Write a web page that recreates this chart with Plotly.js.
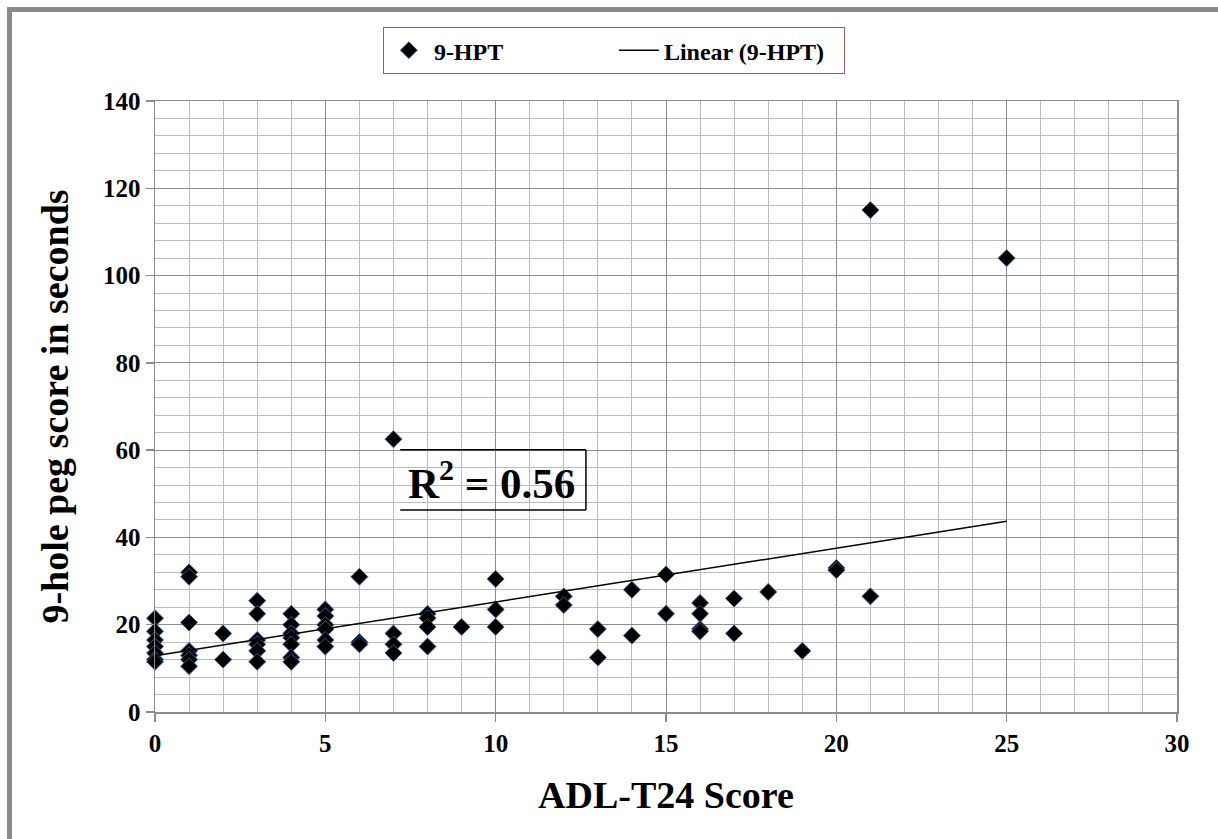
<!DOCTYPE html>
<html>
<head>
<meta charset="utf-8">
<script src="https://cdn.plot.ly/plotly-3.0.1.min.js"></script>
<style>
  html, body { margin: 0; padding: 0; background: #ffffff; }
  #wrap { position: relative; width: 1218px; height: 839px; overflow: hidden; }
  #chart { position: absolute; left: 0; top: 0; width: 1218px; height: 839px; }
  #frame { position: absolute; left: 7px; top: 7px; width: 1206px; height: 828px;
           border-left: 5px solid #8a8a8a; border-top: 5px solid #8a8a8a;
           border-right: 2px solid #9a9a9a; border-bottom: 2px solid #9a9a9a;
           pointer-events: none; }
</style>
</head>
<body>
<div id="wrap">
  <div id="chart"></div>
  <div id="frame"></div>
</div>
<script>
// ADL-T24 score (x) and 9-hole peg test time in seconds (y)
const adlScores = [
  0,0,0,0,0,0,0,
  1,1,1,1,1,1,1,
  2,2,
  3,3,3,3,3,3,
  4,4,4,4,4,4,4,
  5,5,5,5,5,5,
  6,6,6,
  7,7,7,7,
  8,8,8,8,
  9,
  10,10,10,
  12,12,
  13,13,
  14,14,
  15,15,
  16,16,16,16,
  17,17,
  18,
  19,
  20,20,
  21,21,
  25
];
const pegTimes = [
  21.5,18.5,16.5,15,13.5,12,11.5,
  32,31,20.5,14,13,12,10.5,
  18,12,
  25.5,22.5,16.5,15.5,14,11.5,
  22.5,20,18,17,15.5,12.5,11.5,
  23.5,22,20,19,16.5,15,
  31,16,15.5,
  62.5,18,15.5,13.5,
  22.5,21.5,19.5,15,
  19.5,
  30.5,23.5,19.5,
  26.5,24.5,
  19,12.5,
  28,17.5,
  31.5,22.5,
  25,22.5,19,18.5,
  26,18,
  27.5,
  14,
  33,32.5,
  115,26.5,
  104
];
// Linear trend line end points
const trendX = [0, 25];
const trendY = [12.9, 43.7];
const rSquaredText = 'R<sup>2</sup> = 0.56';
const seriesName = '9-HPT';
const trendName = 'Linear (9-HPT)';
const xTitle = 'ADL-T24 Score';
const yTitle = '9-hole peg score in seconds';

const serif = 'Liberation Serif, Times New Roman, serif';

const traces = [
  {
    x: adlScores, y: pegTimes, type: 'scatter', mode: 'markers', name: seriesName,
    marker: { symbol: 'diamond', size: 13, color: '#000000', line: { color: '#2f5a8a', width: 1 } },
    cliponaxis: false
  },
  {
    x: trendX, y: trendY, type: 'scatter', mode: 'lines', name: trendName,
    line: { color: '#000000', width: 1.5 }
  }
];

const layout = {
  width: 1218, height: 839,
  margin: { l: 155, r: 41, t: 101, b: 127 },
  paper_bgcolor: '#ffffff', plot_bgcolor: '#ffffff',
  font: { family: serif, color: '#000000' },
  showlegend: true,
  legend: {
    orientation: 'h', x: 0.449, xanchor: 'center', y: 1.121, yanchor: 'top',
    bordercolor: '#a85a5a', borderwidth: 1, bgcolor: '#ffffff',
    font: { family: serif, size: 24, color: '#000000', weight: 'bold' },
    itemwidth: 40, entrywidth: 175, entrywidthmode: 'pixels'
  },
  xaxis: {
    range: [0, 30], dtick: 5, tick0: 0,
    showgrid: true, gridcolor: '#8c8c8c', gridwidth: 1,
    minor: { dtick: 1, showgrid: true, gridcolor: '#bcbcbc', gridwidth: 1 },
    showline: true, linecolor: '#8c8c8c', linewidth: 1.5, mirror: true,
    ticks: 'outside', ticklen: 8, tickcolor: '#8c8c8c', tickwidth: 1.5,
    zeroline: false,
    tickfont: { family: serif, size: 25, color: '#000000', weight: 'bold' },
    title: { text: xTitle, standoff: 26, font: { family: serif, size: 38, color: '#000000', weight: 'bold' } }
  },
  yaxis: {
    range: [0, 140], dtick: 20, tick0: 0,
    showgrid: true, gridcolor: '#8c8c8c', gridwidth: 1,
    minor: { dtick: 4, showgrid: true, gridcolor: '#bcbcbc', gridwidth: 1 },
    showline: true, linecolor: '#8c8c8c', linewidth: 1.5, mirror: true,
    ticks: 'outside', ticklen: 8, tickcolor: '#8c8c8c', tickwidth: 1.5,
    zeroline: false,
    tickfont: { family: serif, size: 25, color: '#000000', weight: 'bold' },
    title: { text: yTitle, standoff: 22, font: { family: serif, size: 38, color: '#000000', weight: 'bold' } }
  },
  annotations: [
    {
      x: 9.87, y: 53.2, xref: 'x', yref: 'y', text: rSquaredText, showarrow: false,
      xanchor: 'center', yanchor: 'middle',
      font: { family: serif, size: 43, color: '#000000', weight: 'bold' }
    }
  ],
  shapes: [
    { type: 'line', xref: 'x', yref: 'y', x0: 7.2, x1: 12.65, y0: 60.1, y1: 60.1, line: { color: '#000000', width: 1.5 } },
    { type: 'line', xref: 'x', yref: 'y', x0: 7.2, x1: 12.65, y0: 46.3, y1: 46.3, line: { color: '#000000', width: 1.5 } },
    { type: 'line', xref: 'x', yref: 'y', x0: 12.65, x1: 12.65, y0: 46.3, y1: 60.1, line: { color: '#000000', width: 1.5 } }
  ]
};

Plotly.newPlot('chart', traces, layout, { displayModeBar: false, staticPlot: true });
</script>
</body>
</html>
